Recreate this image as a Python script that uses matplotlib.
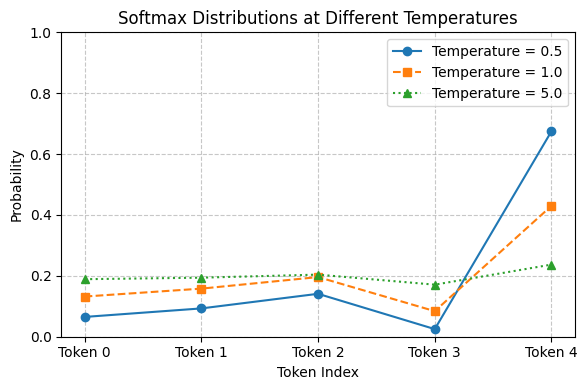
import matplotlib.pyplot as plt
import numpy as np

tokens = ['Token 0', 'Token 1', 'Token 2', 'Token 3', 'Token 4']
temperatures = [0.5, 1.0, 5.0]
probs_t05 = [0.065, 0.093, 0.141, 0.025, 0.675]
probs_t10 = [0.132, 0.158, 0.196, 0.084, 0.430]
probs_t50 = [0.189, 0.194, 0.204, 0.171, 0.237]

x = np.arange(len(tokens))
fig, ax = plt.subplots(figsize=(6, 4), dpi=100)
for t, p, style, marker in zip(temperatures, [probs_t05, probs_t10, probs_t50],
                               ['-', '--', ':'], ['o', 's', '^']):
    ax.plot(x, p, linestyle=style, marker=marker, label=f'Temperature = {t}')

ax.set_title('Softmax Distributions at Different Temperatures')
ax.set_xlabel('Token Index')
ax.set_ylabel('Probability')
ax.set_xticks(x)
ax.set_xticklabels(tokens)
ax.set_ylim(0, 1)
ax.legend()
ax.grid(True, linestyle='--', alpha=0.7)
fig.tight_layout()
fig.savefig('out.png', bbox_inches='tight')
